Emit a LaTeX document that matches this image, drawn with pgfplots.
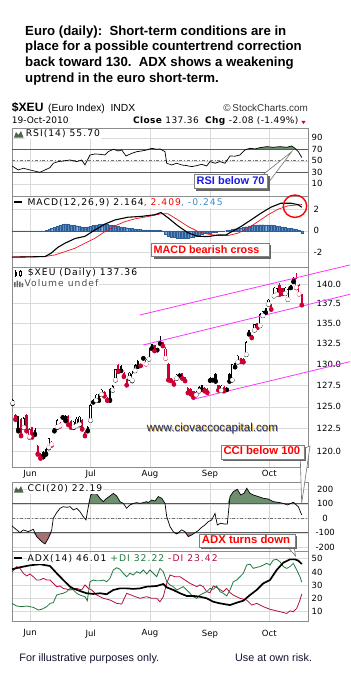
\documentclass[border=0pt]{standalone}
\usepackage{fontspec}
\setmainfont{Liberation Sans}
\newfontfamily\dv{DejaVu Sans}
\newfontfamily\dvl[LetterSpace=11]{DejaVu Sans}
\newfontfamily\dvt[LetterSpace=4]{DejaVu Sans}
\usepackage{pgfplots}
\usepackage{pgfplotstable}
\pgfplotsset{compat=1.18}

\definecolor{cred}{HTML}{CC0033}
\definecolor{magline}{HTML}{FF33FF}
\definecolor{gridc}{HTML}{DADADA}
\definecolor{framec}{HTML}{8C8C8C}
\definecolor{upfill}{HTML}{6E8F6E}
\definecolor{dnfill}{HTML}{A57272}
\definecolor{histf}{HTML}{5B8EC6}
\definecolor{histd}{HTML}{2E5E96}
\definecolor{macdsig}{HTML}{E8141E}
\definecolor{macdblue}{HTML}{3C8FC8}
\definecolor{digreen}{HTML}{1E7A3C}
\definecolor{dired}{HTML}{B01040}
\definecolor{callblue}{HTML}{1A1AE6}
\definecolor{navy}{HTML}{1C2A6E}
\definecolor{gold}{HTML}{D4A82A}
\definecolor{foot}{HTML}{101030}

\newcommand\tickfont{\dv\fontsize{8.5}{9}\selectfont}
\newcommand\lblfont{\dvl\fontsize{9.2}{10}\selectfont}

% ---------- candles: i  c(1=red)  f(1=filled)  lo  hi  blo  bhi
\pgfplotstableread{
i c f lo hi blo bhi
0 0 0 125.35 125.95 125.45 125.8
1 1 1 123.5 124.15 123.6 124.05
2 0 1 122.2 124.0 122.4 123.9
3 1 1 121.65 123.7 121.75 123.6
4 0 0 122.6 123.8 122.65 123.7
5 1 1 122.2 124.2 122.25 124.1
6 1 0 121.5 122.55 121.6 122.45
7 1 1 121.5 122.7 121.6 122.65
8 0 1 121.8 122.55 121.9 122.4
9 1 1 119.6 120.7 119.7 120.6
10 1 1 119.15 119.75 119.25 119.65
11 0 1 119.3 120.0 119.4 119.9
12 0 1 119.6 120.3 119.7 120.2
13 0 0 120.3 121.5 120.4 121.4
14 1 0 120.6 121.1 120.75 121.05
15 0 1 122.2 122.6 122.25 122.55
16 0 0 122.6 123.6 122.7 123.5
17 1 0 122.75 123.3 122.85 123.2
18 0 1 123.75 124.0 123.8 123.95
19 0 1 123.35 124.05 123.45 123.95
20 1 1 122.9 124.1 123.0 124.0
21 1 1 122.6 123.45 122.7 123.35
22 0 0 122.6 123.4 122.7 123.3
23 0 0 122.8 123.8 122.85 123.65
24 0 0 122.9 123.95 123.0 123.85
25 1 1 122.4 123.6 122.5 123.5
26 1 1 121.65 122.25 121.75 122.15
27 0 1 122.2 122.8 122.3 122.7
28 0 0 123.4 125.3 123.45 125.2
29 0 1 125.5 125.9 125.55 125.8
30 0 0 125.7 126.5 125.75 126.4
31 0 1 125.7 126.45 125.8 126.3
32 0 0 126.4 127.1 126.45 127.0
33 1 1 126.2 126.85 126.3 126.7
34 1 1 125.7 126.1 125.75 126.0
35 0 1 125.7 127.2 125.8 127.1
36 0 0 126.9 127.5 126.95 127.4
37 0 0 128.1 129.5 128.15 129.4
38 1 1 129.1 130.0 129.15 129.9
39 0 1 129.2 129.9 129.25 129.85
40 1 1 128.5 129.1 128.6 129.0
41 1 1 127.5 128.3 127.55 128.2
42 0 0 128.3 129.1 128.4 129.0
43 0 0 128.0 129.2 128.1 128.9
44 0 0 129.2 130.0 129.25 129.9
45 0 1 129.7 130.5 129.75 130.4
46 1 1 129.8 130.1 129.85 130.05
47 0 1 130.7 131.0 130.75 130.95
48 1 0 130.0 130.6 130.05 130.55
49 0 0 130.6 132.0 130.65 131.9
50 0 1 131.9 132.5 131.95 132.45
51 1 1 131.6 132.4 131.65 132.3
52 0 1 131.7 132.0 131.75 131.95
53 0 1 132.5 133.5 132.55 132.7
54 1 1 132.2 132.75 132.25 132.7
55 1 0 130.7 132.1 130.75 131.9
56 1 1 128.1 130.2 128.15 130.1
57 1 1 128.0 128.4 128.05 128.35
58 1 1 127.6 128.1 127.65 128.05
59 0 0 128.3 128.85 128.35 128.75
60 0 1 128.6 129.0 128.65 128.9
61 1 1 128.3 129.0 128.35 128.95
62 1 1 128.0 128.55 128.05 128.45
63 1 1 126.6 127.3 126.65 127.2
64 1 1 126.45 127.2 126.5 127.1
65 1 1 126.06 126.85 126.15 126.8
66 0 0 126.35 126.85 126.4 126.75
67 0 0 126.8 127.4 126.85 127.3
68 0 1 127.0 127.6 127.05 127.5
69 1 1 126.8 127.3 126.9 127.2
70 1 1 126.6 127.15 126.7 127.05
71 0 1 128.05 128.45 128.1 128.35
72 0 1 128.1 128.4 128.15 128.3
73 0 1 127.95 128.95 128.0 128.85
74 1 1 126.9 127.6 126.95 127.5
75 0 0 126.85 127.55 126.9 127.45
76 1 1 126.8 127.4 126.9 127.35
77 0 1 126.95 127.3 127.0 127.25
78 0 1 127.95 128.95 128.0 128.85
79 0 0 128.1 130.1 128.15 130.0
80 0 1 129.65 130.2 129.7 130.15
81 0 0 130.25 131.15 130.3 131.05
82 1 1 130.3 130.8 130.35 130.75
83 1 1 130.25 130.75 130.3 130.7
84 0 0 131.15 132.8 131.2 132.7
85 0 1 133.65 134.2 133.7 134.15
86 1 1 133.2 133.6 133.25 133.55
87 0 0 134.15 135.0 134.2 134.95
88 1 1 134.45 135.1 134.5 135.05
89 0 0 134.7 136.3 134.75 136.2
90 0 0 135.95 136.6 136.0 136.55
91 0 1 136.35 137.0 136.4 136.95
92 0 0 137.4 138.05 137.45 138.0
93 1 1 136.75 137.45 136.8 137.3
94 0 0 138.45 139.6 138.5 139.55
95 0 0 138.65 139.5 138.7 139.45
96 1 1 138.65 140.2 138.7 139.9
97 1 1 138.75 139.55 138.8 139.5
98 0 0 138.75 139.6 138.8 139.55
99 0 0 138.0 139.5 138.05 139.4
100 0 1 139.5 139.9 139.55 139.85
101 0 1 140.3 140.9 140.35 140.75
102 1 0 139.5 141.45 139.6 140.8
103 1 0 138.7 140.0 138.75 139.9
104 1 1 137.3 138.8 137.36 138.75
}\candles

\pgfplotstableread{
x v
12 41.0
18.3 34.1
23.3 37.0
30 34.1
36.7 31.2
40 30.0
45 34.1
50 38.1
53.3 45.7
58.3 48.6
63.3 49.7
70 51.4
76.7 48.6
81.7 51.4
85 42.8
90 60.1
95 61.9
100 61.3
105 60.1
108.3 65.9
113.3 70.0
118.3 67.1
121.7 68.8
126 58.4
131.7 63.0
136.7 65.9
141.7 67.1
146.7 68.8
151.7 71.7
156.7 70.0
160 70.6
165 65.9
166.7 45.7
171.7 42.8
176.7 45.7
181.7 42.8
186.7 41.6
191.7 39.9
196.7 41.6
201.7 43.9
206.7 41.0
210 48.6
215 45.7
220 48.6
225 45.7
230 58.4
235 58.0
240 60.1
245 68.8
250 71.7
255 70.6
260 72.9
266.7 74.6
273.3 73.5
280 74.6
286.7 73.5
291.7 75.8
295 71.7
298.3 65.9
301.8 55.7
}\rsi

\pgfplotstableread{
x v
12 -2.41
30 -2.38
45 -2.35
51 -2.05
58 -1.50
65 -1.13
75 -0.70
85 -0.50
95 0.09
105 0.62
115 1.00
128 1.25
141 1.32
155 1.48
161 1.68
168 1.20
178 0.45
188 -0.18
198 -0.50
208 -0.52
218 -0.38
226 -0.37
235 0.09
241 0.40
251 1.00
261 1.62
271 2.17
281 2.53
291 2.53
298 2.40
301.8 2.164
}\macd

\pgfplotstableread{
x v
12 -2.38
45 -2.35
55 -2.20
65 -1.90
75 -1.59
85 -1.13
95 -0.67
105 -0.06
115 0.46
125 0.85
135 1.10
148 1.31
161 1.56
168 1.56
178 1.00
188 0.40
198 -0.06
208 -0.30
218 -0.43
228 -0.43
238 -0.21
248 0.24
258 0.85
268 1.47
278 1.98
288 2.29
298 2.38
301.8 2.409
}\signal

\pgfplotstableread{
i h
0 -0.03
1 -0.02
2 -0.02
3 -0.03
4 -0.03
5 -0.02
6 -0.02
7 -0.03
8 -0.04
9 -0.05
10 -0.04
11 -0.02
12 0.02
13 0.12
14 0.22
15 0.33
16 0.45
17 0.53
18 0.60
19 0.64
20 0.60
21 0.55
22 0.50
23 0.47
24 0.42
25 0.36
26 0.33
27 0.36
28 0.40
29 0.48
30 0.55
31 0.60
32 0.63
33 0.64
34 0.60
35 0.55
36 0.50
37 0.47
38 0.42
39 0.37
40 0.33
41 0.29
42 0.25
43 0.22
44 0.19
45 0.17
46 0.13
47 0.10
48 0.09
49 0.09
50 0.07
51 0.05
52 0.04
53 0.10
54 -0.05
55 -0.30
56 -0.45
57 -0.55
58 -0.60
59 -0.64
60 -0.67
61 -0.67
62 -0.66
63 -0.65
64 -0.60
65 -0.55
66 -0.45
67 -0.37
68 -0.30
69 -0.22
70 -0.20
71 -0.18
72 -0.15
73 -0.10
74 -0.06
75 -0.03
76 0.00
77 0.04
78 0.09
79 0.14
80 0.20
81 0.24
82 0.28
83 0.32
84 0.38
85 0.45
86 0.50
87 0.53
88 0.55
89 0.56
90 0.56
91 0.55
92 0.55
93 0.54
94 0.50
95 0.46
96 0.42
97 0.36
98 0.30
99 0.26
100 0.24
101 0.20
102 0.15
103 0.02
104 -0.245
}\hist

\pgfplotstableread{
x v
12 -53
16.7 -80
20 -99
23.3 -80
28.3 -92
33.3 -76
36.7 -126
41.7 -161
45 -177
48.3 -138
51.7 -80
53.3 0
56.7 39
60 69
63.3 80
66.7 76
70 80
73.3 57
76.7 69
80 46
83.3 11
86 -11
88.3 80
90.7 161
93.3 172
96.7 168
100 138
103.3 115
106.7 138
110 154
113.3 172
116.7 154
120 115
123.3 103
126.7 69
130 92
133.3 103
136.7 108
140 103
143.3 108
146.7 115
148.3 108
151.7 126
155 119
158.3 150
161.7 138
165 103
166.7 11
170 -57
173.3 -92
176.7 -108
181.7 -80
185 -92
188.3 -126
191.7 -115
195 -99
198.3 -85
201.7 -62
205 -46
208.3 -23
211.7 -11
215 34
217.3 -46
220.7 -34
224 -39
227.3 -39
230 150
233.3 184
237.3 200
240.7 161
244 172
246.7 207
250 172
253.3 161
258.3 150
263.3 138
268.3 133
273.3 115
278.3 110
283.3 103
287.3 92
293.3 110
298.3 80
301.8 22.19
}\cci

\pgfplotstableread{
x v
12 42
20 43.5
30 45
40 45.8
50 44.5
56.7 39
63.3 33.9
70 28.9
73.3 27.5
80 25.6
86.7 23.9
93.3 23.4
100 23.9
106.7 23.2
113.3 26.4
120 27.6
126.7 27.6
133.3 27.2
140 27.6
146.7 28.9
156.7 29.4
163.3 30.9
166.7 28.4
173.3 26.4
180 23.9
186.7 21.9
193.3 21.9
200 21.3
206.7 20.1
213.3 17.5
220 16.3
230 15
236.7 16.8
243.3 18.3
250 22.6
256.7 26.4
263.3 31.4
270 33.9
276.7 41.5
283.3 47
290 49.5
295 49.5
298.3 48.5
301.8 46.01
}\adx

\pgfplotstableread{
x v
12 16.3
16.7 14.3
21.7 13.8
26.7 14.3
33.3 13.3
38.3 11.3
41.7 11.8
46.7 13.8
50 16.3
53.3 16.8
56.7 22.6
60 23.4
63.3 23.9
66.7 25.1
70 27.6
73.3 26.4
76.7 23.9
80 22.6
85 21.3
87.3 18.3
90 32.6
93.3 33.9
96.7 33.3
100 33.3
103.3 33.9
106.7 32.6
110 35.2
113.3 41.5
116.7 43.2
120 42
123.3 39
126.7 36.4
130 39
133.3 37.7
136.7 40.2
140 39
143.3 41.5
146.7 38.5
150 41.5
153.3 39
156.7 36.4
160 42.7
163.3 40.2
165 36.4
166.7 32.6
170 30.2
173.3 28.9
176.7 26.4
180 27.6
183.3 28.9
186.7 26.4
190 23.9
193.3 21.3
196.7 20.1
200 22.6
203.3 23.9
206.7 25.1
210 27.6
213.3 26.9
216.7 29.4
220 25.1
223.3 23.9
226.7 21.9
230 26.4
233.3 32.6
236.7 33.9
240 36.4
243.3 39
246.7 45.2
250 45.9
253.3 42.7
256.7 43.5
260 44
263.3 45.2
266.7 46.5
270 45.2
273.3 49
276.7 49.5
280 47.7
283.3 44
286.7 42.7
290 44
293.3 46.5
296.7 41.5
300 36.4
301.8 32.22
}\pdi

\pgfplotstableread{
x v
12 40
16.7 44
20 42.7
23.3 39
26.7 37
30 38.5
33.3 36.4
36.7 33.9
40 33.9
43.3 35.2
46.7 33.9
50 33.9
53.3 31.4
56.7 28.9
60 29.4
63.3 27.6
70 26.4
76.7 27.6
81.7 26.4
85 30.2
88.3 27.6
91.7 26.4
96.7 22.6
103.3 20.1
110 18.8
116.7 16.3
121.7 15.8
126.7 23.9
133.3 21.9
140 20.1
146.7 21.3
151.7 20.1
156.7 20.1
160 17.5
163.3 21.3
166.7 31.4
170 37.7
175 36.4
180 36.4
185 33.9
190 31.4
193.3 30.2
196.7 28.9
200 30.2
203.3 28.9
206.7 25.1
210 24.4
213.3 29.4
218.3 27.6
223.3 25.1
226.7 27.6
230 24.4
233.3 22.6
240 20.1
246.7 18.8
251.7 15
256.7 16.3
263.3 13.8
270 11.8
276.7 10.6
283.3 9.4
286.7 8.7
290 10.6
293.3 10
296.7 12.5
300 18.8
301.8 23.42
}\mdi

\pgfplotsset{
  panel/.style={
    scale only axis, width=296pt, xmin=12, xmax=308,
    axis line style={draw=framec},
    grid=major, grid style={draw=gridc, line width=0.5pt},
    xtick={30,90.7,150,210,269.3}, xticklabels={},
    major tick length=0pt,
    yticklabel pos=right,
    yticklabel style={font=\tickfont, anchor=west, inner sep=0pt, xshift=3.5pt},
    xticklabel style={font=\tickfont, inner sep=0pt, yshift=-3pt},
    anchor=north west,
  },
  cw/.style={only marks, mark=none, forget plot,
    error bars/y dir=plus, error bars/y explicit, error bars/error mark=none},
}

\begin{document}
\begin{tikzpicture}[x=1pt,y=1pt]
\useasboundingbox (0,0) rectangle (351,-689);

% ================= RSI =================
\begin{axis}[panel, at={(12pt,-128pt)}, height=68pt, ymin=-11.2, ymax=107,
  ytick={10,30,50,70,90}, yticklabels={10,30,50,70,90}]
\addplot[fill=upfill, draw=none, forget plot] table[x=x, y expr={max(\thisrow{v},70)}]{\rsi}
  -- (axis cs:301.8,70) -- (axis cs:12,70) -- cycle;
\addplot[black!65, line width=0.9pt, forget plot] coordinates {(12,70) (308,70)};
\addplot[black!65, line width=0.9pt, forget plot] coordinates {(12,30) (308,30)};
\addplot[black!55, line width=0.6pt, dash dot, forget plot] coordinates {(12,50) (308,50)};
\addplot[black, line width=0.7pt] table[x=x,y=v]{\rsi};
\end{axis}

% ================= MACD =================
\begin{axis}[panel, at={(12pt,-196pt)}, height=70.7pt, ymin=-3.28, ymax=3.19,
  ytick={-2,0,2}, yticklabels={-2,0,2}, yticklabel style={xshift=2pt}]
\addplot[ybar, bar width=2.1, bar shift=0pt, fill=histf, draw=histd, line width=0.3pt, forget plot]
  table[x expr=12.7+2.78*\thisrow{i}, y=h]{\hist};
\addplot[macdsig, line width=0.7pt] table[x=x,y=v]{\signal};
\addplot[black, line width=1.1pt] table[x=x,y=v]{\macd};
\end{axis}

% ================= PRICE =================
\begin{axis}[panel, at={(12pt,-267pt)}, height=200pt, ymode=log, ymin=118.24, ymax=142.26,
  ytick={120,122.5,125,127.5,130,132.5,135,137.5,140},
  yticklabels={120.0,122.5,125.0,127.5,130.0,132.5,135.0,137.5,140.0},
  yticklabel style={xshift=5pt},
  xticklabels={Jun,Jul,Aug,Sep,Oct}, clip=false]
% wicks
\addplot[cw, color=black, restrict expr to domain={\thisrow{c}}{0:0}, error bars/error bar style={line width=0.8pt}]
  table[x expr=12.7+2.78*\thisrow{i}, y=lo, y error expr=\thisrow{hi}-\thisrow{lo}]{\candles};
\addplot[cw, color=cred, restrict expr to domain={\thisrow{c}}{1:1}, error bars/error bar style={line width=0.8pt}]
  table[x expr=12.7+2.78*\thisrow{i}, y=lo, y error expr=\thisrow{hi}-\thisrow{lo}]{\candles};
% bodies
\addplot[cw, color=black, restrict expr to domain={\thisrow{c}}{0:0}, error bars/error bar style={line width=2.3pt}]
  table[x expr=12.7+2.78*\thisrow{i}, y=blo, y error expr=\thisrow{bhi}-\thisrow{blo}]{\candles};
\addplot[cw, color=cred, restrict expr to domain={\thisrow{c}}{1:1}, error bars/error bar style={line width=2.3pt}]
  table[x expr=12.7+2.78*\thisrow{i}, y=blo, y error expr=\thisrow{bhi}-\thisrow{blo}]{\candles};
% hollow interiors
\addplot[cw, color=white, restrict expr to domain={\thisrow{f}}{0:0}, error bars/error bar style={line width=0.9pt, shorten <=0.65pt, shorten >=0.65pt}]
  table[x expr=12.7+2.78*\thisrow{i}, y=blo, y error expr=\thisrow{bhi}-\thisrow{blo}]{\candles};
% trend lines
\addplot[magline, line width=0.8pt] coordinates {(140,136.08) (350,142.52)};
\addplot[magline, line width=0.8pt] coordinates {(143.3,132.36) (350,138.71)};
\addplot[magline, line width=0.8pt] coordinates {(193.3,125.87) (350,130.33)};
\end{axis}

% ================= CCI =================
\begin{axis}[panel, at={(12pt,-481.7pt)}, height=69.3pt, ymin=-225.5, ymax=252.4,
  ytick={-200,-100,0,100,200}, yticklabels={-200,-100,0,100,200},
  yticklabel style={anchor=center, xshift=13.7pt}]
\addplot[fill=upfill, draw=none, forget plot] table[x=x, y expr={max(\thisrow{v},100)}]{\cci}
  -- (axis cs:301.8,100) -- (axis cs:12,100) -- cycle;
\addplot[fill=dnfill, draw=none, forget plot] table[x=x, y expr={min(\thisrow{v},-100)}]{\cci}
  -- (axis cs:301.8,-100) -- (axis cs:12,-100) -- cycle;
\addplot[black!65, line width=0.9pt, forget plot] coordinates {(12,100) (308,100)};
\addplot[black!65, line width=0.9pt, forget plot] coordinates {(12,-100) (308,-100)};
\addplot[black!55, line width=0.6pt, dash dot, forget plot] coordinates {(12,0) (308,0)};
\addplot[black, line width=0.7pt] table[x=x,y=v]{\cci};
\end{axis}

% ================= ADX =================
\begin{axis}[panel, at={(12pt,-551pt)}, height=70pt, ymin=2.98, ymax=55.8,
  ytick={10,20,30,40,50}, yticklabels={10,20,30,40,50},
  xticklabels={Jun,Jul,Aug,Sep,Oct}, xticklabel style={yshift=-5.5pt}]
\addplot[dired, line width=0.8pt] table[x=x,y=v]{\mdi};
\addplot[digreen, line width=0.8pt] table[x=x,y=v]{\pdi};
\addplot[black, line width=1.7pt] table[x=x,y=v]{\adx};
\end{axis}

% ================= TEXT =================
\begin{scope}[font=\bfseries\fontsize{13.2}{15.9}\selectfont]
\node[anchor=base west, inner sep=0pt] at (25,-35) {Euro (daily):\ \ Short-term conditions are in};
\node[anchor=base west, inner sep=0pt] at (25,-50.5) {place for a possible countertrend correction};
\node[anchor=base west, inner sep=0pt] at (25,-66.3) {back toward 130.\ \ ADX shows a weakening};
\node[anchor=base west, inner sep=0pt] at (25,-82.3) {uptrend in the euro short-term.};
\end{scope}

\node[anchor=base west, inner sep=0pt, font=\bfseries\fontsize{12.1}{13}\selectfont] at (11.7,-111.7) {\$XEU};
\node[anchor=base west, inner sep=0pt, font=\fontsize{10.3}{12}\selectfont] at (48,-111.7) {(Euro Index)\ \ INDX};
\node[anchor=base east, inner sep=0pt, font=\fontsize{9.9}{12}\selectfont, text=black!80] at (308,-111.7) {\textcopyright\,StockCharts.com};
\node[anchor=base west, inner sep=0pt, font=\dv\fontsize{9}{10}\selectfont] at (11.7,-123.3) {19-Oct-2010};
\node[anchor=base east, inner sep=0pt, font=\dvt\fontsize{9}{10}\selectfont] at (298.5,-123.3) {\textbf{Close} 137.36\ \ \textbf{Chg} -2.08 (-1.49\%)};
\fill[cred] (301.3,-120.8) -- (305.7,-120.8) -- (303.5,-124) -- cycle;

% panel labels
\node[anchor=base west, inner sep=0.6pt, fill=white, font=\lblfont] at (25,-136.7) {RSI(14) 55.70};
\fill[upfill!70!black] (14,-137.5) -- (16,-132) -- (18.5,-135) -- (21,-131) -- (23.5,-137.5) -- cycle;
\node[anchor=base west, inner sep=0.6pt, fill=white, font=\lblfont] at (26.7,-205.7) {MACD(12,26,9) 2.164{\color{red}, 2.409}{\color{macdblue}, -0.245}};
\draw[black, line width=1.8pt] (14,-202.3) -- (22,-202.3);
\node[anchor=base west, inner sep=0.6pt, fill=white, font=\lblfont] at (27,-275.7) {\$XEU (Daily) 137.36};
\draw[black, line width=0.7pt] (15.5,-270) -- (15.5,-277) (20.5,-270) -- (20.5,-277);
\fill[black] (14.5,-272) rectangle (16.5,-275.5);
\draw[black, fill=white, line width=0.5pt] (19.5,-271.5) rectangle (21.5,-275.5);
\node[anchor=base west, inner sep=0.6pt, fill=white, font=\lblfont, text=black!70] at (23.8,-286.7) {Volume undef};
\fill[black!60] (14,-287) rectangle (15.5,-282) (16.5,-287) rectangle (18,-280.5) (19,-287) rectangle (20.5,-281.5) (21.5,-287) rectangle (23,-283);
\node[anchor=base west, inner sep=0.6pt, fill=white, font=\lblfont] at (26.7,-491.7) {CCI(20) 22.19};
\fill[upfill!70!black] (14,-492.5) -- (16,-487) -- (18.5,-490) -- (21,-486) -- (23.5,-492.5) -- cycle;
\node[anchor=base west, inner sep=0.6pt, fill=white, font=\lblfont] at (26.7,-561.7) {ADX(14) 46.01 {\color{digreen}+DI 32.22} {\color{dired}-DI 23.42}};
\draw[black, line width=1.8pt] (14,-558.3) -- (22,-558.3);

% watermark
\node[anchor=base west, inner sep=0pt, font=\fontsize{11.56}{12}\selectfont, text=gold] at (147.4,-432.4) {www.ciovaccocapital.com};
\node[anchor=base west, inner sep=0pt, font=\fontsize{11.56}{12}\selectfont, text=navy] at (146.7,-431.7) {www.ciovaccocapital.com};

% callout: RSI below 70
\draw[black!55, fill=white, line width=0.6pt] (262.5,-175) -- (291.7,-151.7) -- (268.5,-182.5) -- cycle;
\fill[black!60] (196,-176) rectangle (269.5,-190.5);
\draw[black!50, fill=white, line width=0.6pt] (194,-174) rectangle (267.3,-188.3);
\node[anchor=base west, inner sep=0pt, font=\bfseries\fontsize{11}{12}\selectfont, text=callblue] at (196.5,-184.5) {RSI below 70};

% MACD circle and callout
\draw[red, line width=1.4pt] (295,-206.2) ellipse (11.7 and 11.2);
\fill[black!60] (154,-245.3) rectangle (271.3,-258.9);
\draw[black!50, fill=white, line width=0.6pt] (151.7,-243.3) rectangle (269.3,-256.7);
\node[anchor=base west, inner sep=0pt, font=\bfseries\fontsize{10.8}{12}\selectfont, text=red] at (153.5,-253.5) {MACD bearish cross};

% callout: CCI below 100
\draw[black!55, fill=white, line width=0.6pt] (300,-450) -- (310,-446) -- (301.7,-503.3) -- cycle;
\fill[black!60] (223,-447) rectangle (306,-461);
\draw[black!50, fill=white, line width=0.6pt] (221,-445) rectangle (304,-459);
\node[anchor=base west, inner sep=0pt, font=\bfseries\fontsize{11.3}{12}\selectfont, text=red] at (223.3,-454.5) {CCI below 100};

% callout: ADX turns down
\draw[black!55, fill=white, line width=0.6pt] (287,-546) -- (294,-546) -- (295.5,-556) -- cycle;
\fill[black!60] (201.3,-536) rectangle (297,-549.3);
\draw[black!50, fill=white, line width=0.6pt] (199.3,-534) rectangle (295,-547.3);
\node[anchor=base west, inner sep=0pt, font=\bfseries\fontsize{11.35}{12}\selectfont, text=red] at (201.7,-543.5) {ADX turns down};

% footer
\node[anchor=base west, inner sep=0pt, font=\fontsize{10.8}{12}\selectfont, text=foot] at (19.3,-661.7) {For illustrative purposes only.};
\node[anchor=base west, inner sep=0pt, font=\fontsize{10.8}{12}\selectfont, text=foot] at (235,-661.7) {Use at own risk.};
\end{tikzpicture}
\end{document}
